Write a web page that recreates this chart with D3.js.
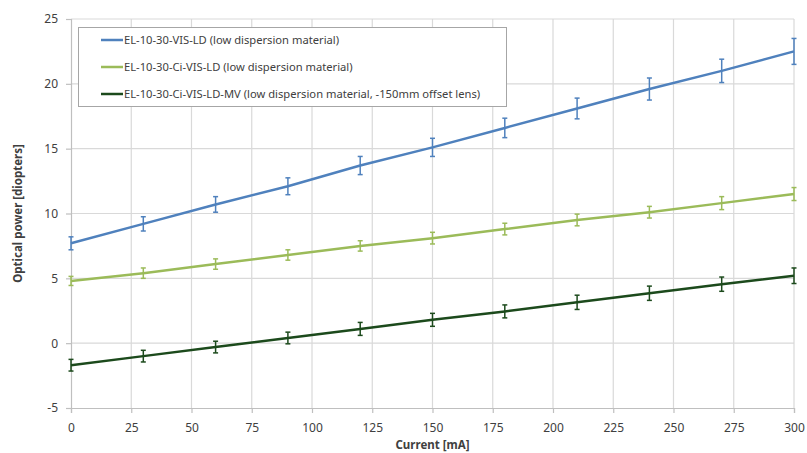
<!DOCTYPE html>
<html>
<head>
<meta charset="utf-8">
<script src="https://cdn.jsdelivr.net/npm/d3@7"></script>
<style>
  body { margin: 0; background: #fff; }
  text { font-family: "Noto Sans", "Open Sans", sans-serif; fill: #404040; }
</style>
</head>
<body>
<div id="chart"></div>
<script>
// current steps [mA]
const currents = [0, 30, 60, 90, 120, 150, 180, 210, 240, 270, 300];

// optical power [diopters] per lens
const visLd = [7.7, 9.2, 10.7, 12.1, 13.7, 15.1, 16.6, 18.1, 19.6, 21.0, 22.5];
const visLdErr = [0.5, 0.55, 0.6, 0.65, 0.7, 0.7, 0.75, 0.8, 0.85, 0.9, 1.0];
const ciVisLd = [4.8, 5.4, 6.1, 6.8, 7.5, 8.1, 8.8, 9.5, 10.1, 10.8, 11.5];
const ciVisLdErr = [0.35, 0.4, 0.4, 0.4, 0.4, 0.45, 0.45, 0.45, 0.45, 0.5, 0.5];
const ciVisLdMv = [-1.7, -1.0, -0.3, 0.4, 1.1, 1.8, 2.45, 3.15, 3.85, 4.55, 5.2];
const ciVisLdMvErr = [0.45, 0.45, 0.45, 0.45, 0.5, 0.5, 0.5, 0.55, 0.55, 0.55, 0.6];

const seriesNames = [
    "EL-10-30-VIS-LD (low dispersion material)",
    "EL-10-30-Ci-VIS-LD (low dispersion material)",
    "EL-10-30-Ci-VIS-LD-MV (low dispersion material, -150mm offset lens)"
];
const seriesColors = ["#4f81bd", "#9bbb59", "#1c4a1c"];

const xTicks = d3.range(0, 301, 25);
const yTicks = d3.range(-5, 26, 5);

const series = [
    { name: seriesNames[0], values: visLd, errs: visLdErr, color: seriesColors[0] },
    { name: seriesNames[1], values: ciVisLd, errs: ciVisLdErr, color: seriesColors[1] },
    { name: seriesNames[2], values: ciVisLdMv, errs: ciVisLdMvErr, color: seriesColors[2] }
];

const width = 807, height = 453;
const margin = { top: 19, right: 13, bottom: 45, left: 71 };

const svg = d3.select("#chart").append("svg")
    .attr("width", width)
    .attr("height", height);

const x = d3.scaleLinear().domain([0, 300]).range([margin.left, width - margin.right]);
const y = d3.scaleLinear().domain([-5, 25]).range([height - margin.bottom, margin.top]);

// gridlines
svg.append("g")
    .selectAll("line.h")
    .data(yTicks.filter(d => d > -5))
    .join("line")
    .attr("x1", x(0)).attr("x2", x(300))
    .attr("y1", d => y(d)).attr("y2", d => y(d))
    .attr("stroke", "#d9d9d9").attr("stroke-width", 1.2);
svg.append("g")
    .selectAll("line.v")
    .data(xTicks.filter(d => d > 0))
    .join("line")
    .attr("x1", d => x(d)).attr("x2", d => x(d))
    .attr("y1", y(-5)).attr("y2", y(25))
    .attr("stroke", "#d9d9d9").attr("stroke-width", 1.2);

// axes
const xAxis = svg.append("g")
    .attr("transform", `translate(0,${y(-5)})`)
    .call(d3.axisBottom(x).tickValues(xTicks).tickSize(5).tickPadding(10));
const yAxis = svg.append("g")
    .attr("transform", `translate(${x(0)},0)`)
    .call(d3.axisLeft(y).tickValues(yTicks).tickSize(5).tickPadding(8).tickFormat(d => d < 0 ? "-" + Math.abs(d) : d));
[xAxis, yAxis].forEach(a => {
    a.select(".domain").attr("stroke", "#bfbfbf").attr("stroke-width", 1.2);
    a.selectAll(".tick line").attr("stroke", "#bfbfbf").attr("stroke-width", 1.2);
    a.selectAll(".tick text")
        .attr("font-size", "12px")
        .attr("font-family", "Noto Sans, sans-serif")
        .attr("fill", "#404040");
});

// axis titles
svg.append("text")
    .text("Current [mA]")
    .attr("x", x(150))
    .attr("y", 449)
    .attr("text-anchor", "middle")
    .attr("font-size", "11.5px")
    .attr("font-weight", "bold");
svg.append("text")
    .text("Optical power [diopters]")
    .attr("transform", `translate(22, ${y(10)}) rotate(-90)`)
    .attr("text-anchor", "middle")
    .attr("font-size", "11.5px")
    .attr("font-weight", "bold");

// lines and error bars
const line = d3.line().x((d, i) => x(currents[i])).y(d => y(d));

series.forEach(s => {
    const g = svg.append("g");
    g.append("path")
        .attr("d", line(s.values))
        .attr("fill", "none")
        .attr("stroke", s.color)
        .attr("stroke-width", 2.5);

    const bars = g.selectAll("g.err")
        .data(s.values.map((v, i) => ({ x: currents[i], v: v, e: s.errs[i] })))
        .join("g");
    bars.append("line")
        .attr("x1", d => x(d.x)).attr("x2", d => x(d.x))
        .attr("y1", d => y(d.v - d.e)).attr("y2", d => y(d.v + d.e))
        .attr("stroke", s.color).attr("stroke-width", 1.5);
    [-1, 1].forEach(sign => {
        bars.append("line")
            .attr("x1", d => x(d.x) - 2.5).attr("x2", d => x(d.x) + 2.5)
            .attr("y1", d => y(d.v + sign * d.e)).attr("y2", d => y(d.v + sign * d.e))
            .attr("stroke", s.color).attr("stroke-width", 1.5);
    });
});

// legend
const legend = svg.append("g");
legend.append("rect")
    .attr("x", 78.5).attr("y", 27.5)
    .attr("width", 428).attr("height", 79)
    .attr("fill", "#fff")
    .attr("stroke", "#a6a6a6")
    .attr("stroke-width", 1);
series.forEach((s, i) => {
    const ly = 40 + i * 27;
    legend.append("line")
        .attr("x1", 101).attr("x2", 123)
        .attr("y1", ly).attr("y2", ly)
        .attr("stroke", s.color).attr("stroke-width", 2.5);
    legend.append("text")
        .text(s.name)
        .attr("x", 124)
        .attr("y", ly)
        .attr("dy", "0.35em")
        .attr("font-size", "11.2px");
});
</script>
</body>
</html>
